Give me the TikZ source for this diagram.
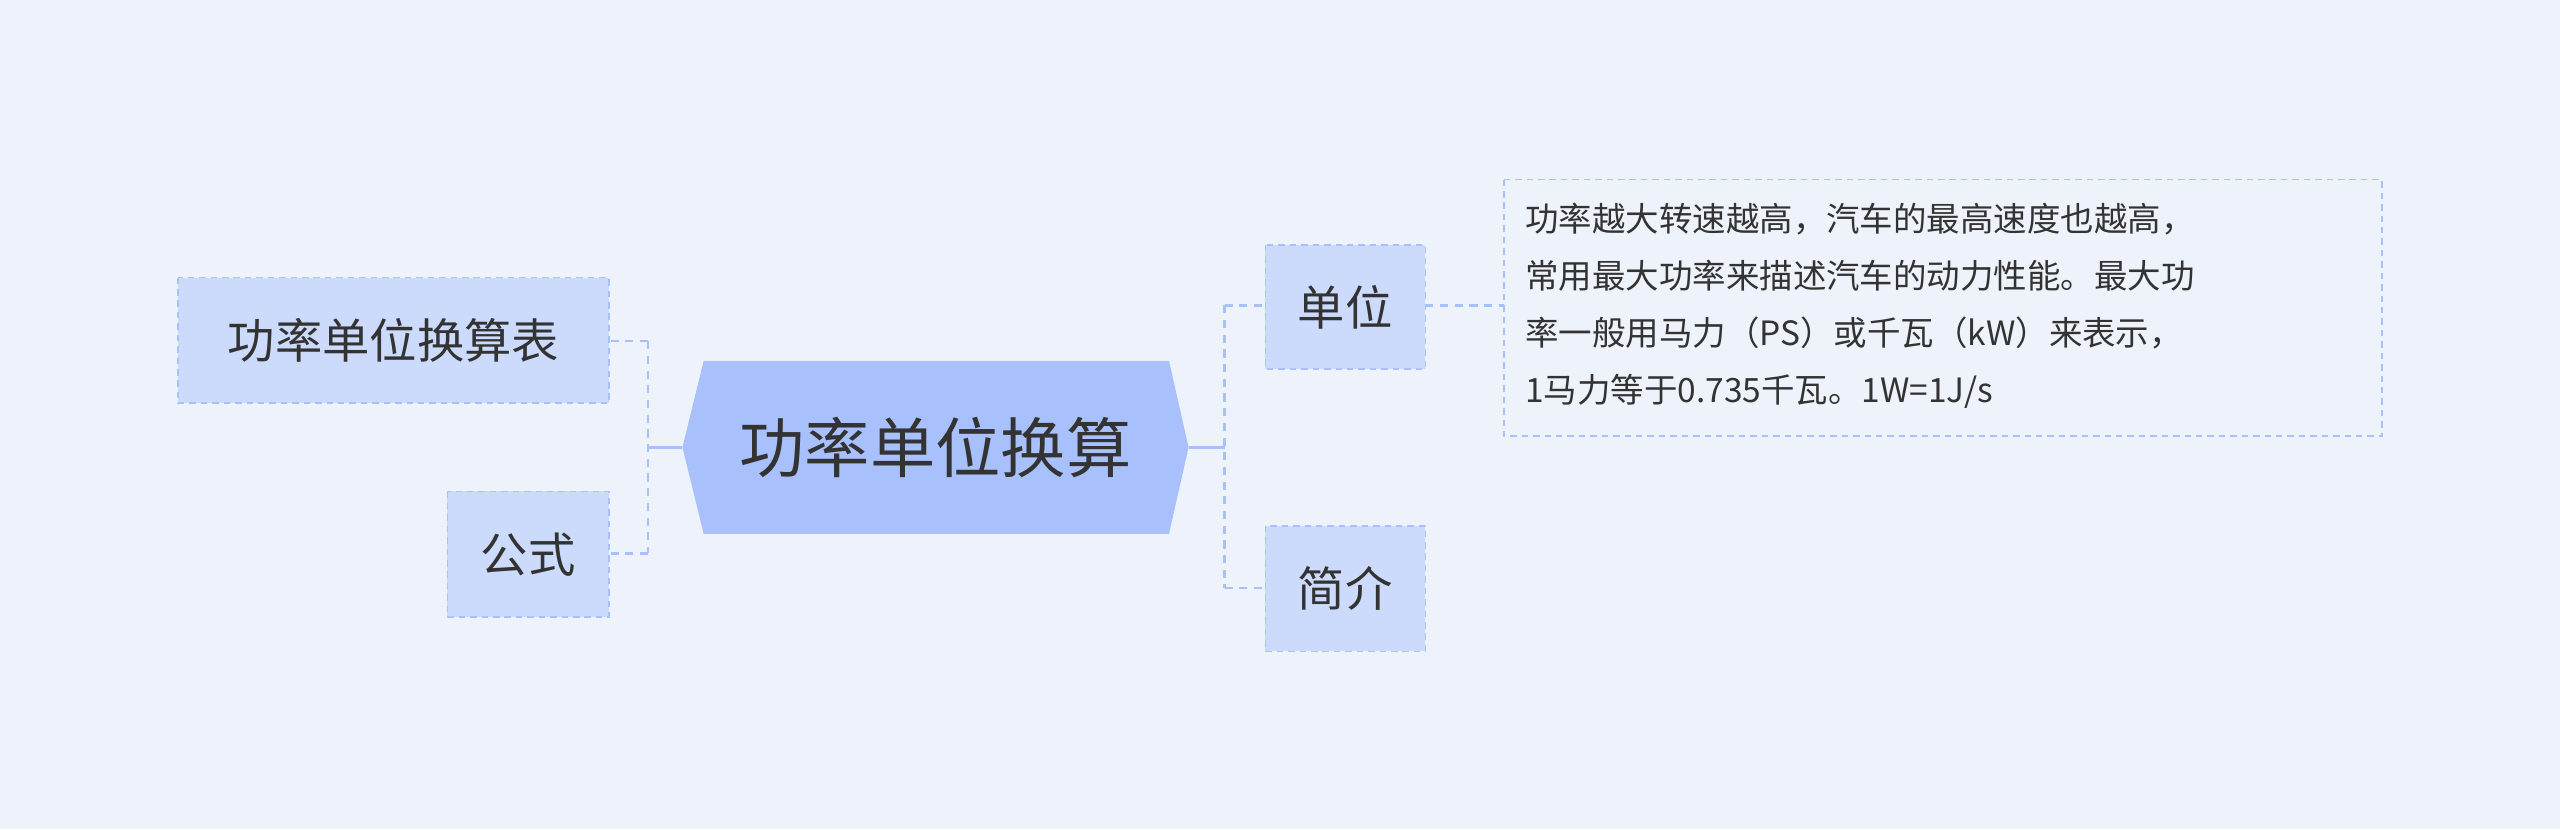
\documentclass[tikz,border=0pt]{standalone}
\usepackage{fontspec}
\setmainfont{Noto Sans CJK SC}
\begin{document}
\begin{tikzpicture}[x=1pt,y=-1pt,
  sub/.style={draw=bd,fill=subf,dashed,dash pattern=on 4pt off 3pt,line width=1pt},
  conn/.style={draw=bd,line width=1.5pt,dash pattern=on 5pt off 4pt},
  txt/.style={text=tc,inner sep=0pt}]
\definecolor{bg}{HTML}{EEF2FA}
\definecolor{bd}{HTML}{A9C1FA}
\definecolor{subf}{HTML}{CCDBFB}
\definecolor{mainf}{HTML}{A8C0FC}
\definecolor{tc}{HTML}{333333}
\fill[bg] (0,0) rectangle (1568,508);
\useasboundingbox (0,0) rectangle (1568,508);
% center
\fill[mainf] (418,274)--(431,221)--(716,221)--(728,274)--(716,327)--(431,327)--cycle;
\node[txt,font=\fontsize{40}{44}\selectfont] (c) at (573,274) {功率单位换算};
\coordinate (cl) at (418,274); \coordinate (cr) at (728,274);
% sub nodes
\draw[sub] (109,170) rectangle (373,247); \node[txt,font=\fontsize{29}{32}\selectfont] (a) at (241,208.5) {功率单位换算表};
\draw[sub] (274,301) rectangle (373,378); \node[txt,font=\fontsize{29}{32}\selectfont] (b) at (323.5,339.5) {公式};
\draw[sub] (775,150) rectangle (873,226); \node[txt,font=\fontsize{29}{32}\selectfont] (d) at (824,188) {单位};
\draw[sub] (775,322) rectangle (873,399); \node[txt,font=\fontsize{29}{32}\selectfont] (e) at (824,360.5) {简介};
\draw[bd,dashed,dash pattern=on 4pt off 3pt,line width=1pt] (921,110) rectangle (1459,267);
\node[txt,anchor=north west,align=left,font=\fontsize{20.5}{35}\selectfont] (p) at (934,124) {功率越大转速越高，汽车的最高速度也越高，\\常用最大功率来描述汽车的动力性能。最大功\\率一般用马力（PS）或千瓦（kW）来表示，\\1马力等于0.735千瓦。1W=1J/s};
% connectors
\coordinate (jl) at (397,274); \coordinate (jr) at (750,274);
\draw[bd,line width=2pt] (cl)--(jl) (cr)--(jr);
\draw[conn] (397,209)--(397,339);
\draw[conn] (397,209)--(373,209);
\draw[conn] (397,339)--(373,339);
\draw[conn] (750,187)--(750,360);
\draw[conn] (750,187)--(775,187);
\draw[conn] (750,360)--(775,360);
\draw[conn] (873,187)--(921,187);
\end{tikzpicture}
\end{document}
